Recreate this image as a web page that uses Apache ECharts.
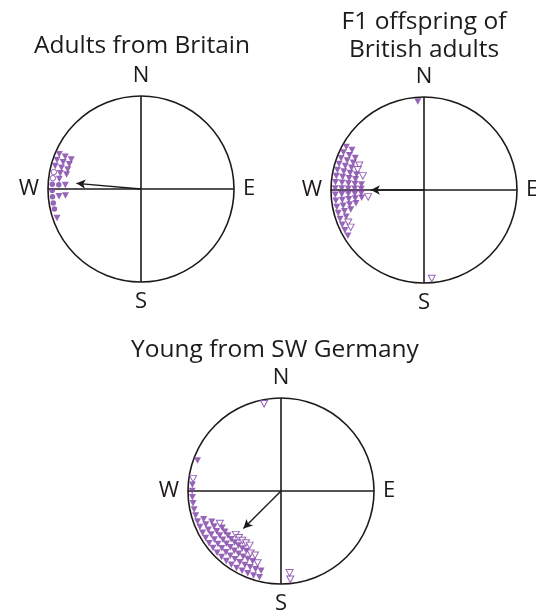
<!DOCTYPE html>
<html style="height: 100%">
<head>
    <meta charset="utf-8">
</head>
<body style="height: 100%; margin: 0; background: #fff">
<div id="container" style="width: 536px; height: 613px"></div>
<script type="text/javascript" src="https://cdn.jsdelivr.net/npm/echarts@6/dist/echarts.min.js"></script>
<script type="text/javascript">
var dom = document.getElementById('container');
var myChart = echarts.init(dom);

var INK = '#1e1a1b';
var PURPLE = '#7d3fa5';

var panelTitles = ['Adults from Britain', 'F1 offspring of\nBritish adults', 'Young from SW Germany'];
var compassLabels = { 0: 'N', 90: 'E', 180: 'S', 270: 'W' };

// Adults from Britain: bearing bins (deg) and number of birds per symbol type
var adultsBins       = [293, 289, 285, 281, 277, 273, 269, 265, 261, 257, 251];
var adultsDot        = [0,   0,   0,   0,   0,   2,   1,   1,   1,   1,   0];
var adultsOpenDot    = [0,   0,   0,   1,   1,   0,   0,   0,   0,   0,   0];
var adultsFilled     = [3,   3,   3,   2,   1,   1,   0,   2,   0,   0,   1];
var adultsOpen       = [0,   0,   0,   0,   0,   0,   0,   0,   0,   0,   0];

// F1 offspring of British adults
var f1Bins   = [356, 299, 295, 291, 287, 283, 279, 275, 271, 267, 263, 259, 255, 251, 247, 243, 239, 175];
var f1Filled = [1,   2,   3,   3,   3,   4,   4,   5,   5,   5,   5,   4,   3,   2,   1,   1,   1,   0];
var f1Open   = [0,   0,   0,   1,   1,   1,   0,   0,   0,   0,   1,   0,   0,   0,   1,   1,   0,   1];

// Young from SW Germany
var youngBins   = [349, 290, 278, 274, 270, 266, 262, 258, 254, 250, 246, 242, 238, 234, 230, 226, 222, 218, 214, 210, 206, 202, 198, 194, 174];
var youngFilled = [0,   1,   0,   1,   1,   1,   1,   1,   1,   2,   3,   3,   4,   4,   4,   4,   4,   4,   4,   4,   3,   3,   2,   2,   0];
var youngOpen   = [1,   0,   1,   0,   0,   0,   0,   0,   0,   0,   0,   1,   0,   0,   0,   1,   1,   1,   1,   1,   1,   1,   1,   0,   2];

// mean vectors: [length, bearing]
var meanVectors = [[0.745, 275], [0.62, 270], [0.62, 225]];

var panels = [
    { center: [141, 189], title: [142, 46] },
    { center: [424, 190], title: [424, 36] },
    { center: [281, 491], title: [275, 350] }
];
var RADIUS = 93;
var CROSS = 1.09;
var RING = 0.955, STEP = 0.07;

function stack(bins, groups) {
    var out = groups.map(function () { return []; });
    bins.forEach(function (b, i) {
        var k = 0;
        groups.forEach(function (counts, g) {
            for (var n = 0; n < counts[i]; n++) {
                out[g].push([RING - STEP * k, b]);
                k++;
            }
        });
    });
    return out;
}

function marks(pi, data, symbol, filled) {
    return {
        type: 'scatter',
        coordinateSystem: 'polar',
        polarIndex: pi,
        data: data,
        symbol: symbol,
        symbolSize: symbol === 'triangle' ? [7, 6.5] : 5.5,
        symbolRotate: symbol === 'triangle' ? 180 : 0,
        itemStyle: filled
            ? { color: PURPLE }
            : { color: '#fff', borderColor: PURPLE, borderWidth: 1 },
        silent: true,
        z: 3
    };
}

function cross(pi) {
    return [[[CROSS, 0], [CROSS, 180]], [[CROSS, 90], [CROSS, 270]]].map(function (d) {
        return {
            type: 'line', coordinateSystem: 'polar', polarIndex: pi,
            data: d, symbol: 'none', clip: false, silent: true, z: 1,
            lineStyle: { color: INK, width: 1.6 }
        };
    });
}

function arrow(pi, v) {
    var head = 9;
    return {
        type: 'line', coordinateSystem: 'polar', polarIndex: pi,
        clip: false, silent: true, z: 4,
        data: [
            { value: [0, v[1]], symbol: 'none' },
            { value: [v[0] - head / 2 / RADIUS, v[1]], symbol: 'arrow', symbolSize: [7, head], symbolRotate: -v[1] }
        ],
        lineStyle: { color: INK, width: 1.4 },
        itemStyle: { color: INK }
    };
}

var adults = stack(adultsBins, [adultsDot, adultsOpenDot, adultsFilled, adultsOpen]);
var f1 = stack(f1Bins, [f1Filled, f1Open]);
var young = stack(youngBins, [youngFilled, youngOpen]);

var series = [];
[0, 1, 2].forEach(function (i) {
    series = series.concat(cross(i));
});
series.push(marks(0, adults[0], 'circle', true));
series.push(marks(0, adults[1], 'circle', false));
series.push(marks(0, adults[2], 'triangle', true));
series.push(marks(0, adults[3], 'triangle', false));
series.push(marks(1, f1[0], 'triangle', true));
series.push(marks(1, f1[1], 'triangle', false));
series.push(marks(2, young[0], 'triangle', true));
series.push(marks(2, young[1], 'triangle', false));
meanVectors.forEach(function (v, i) {
    series.push(arrow(i, v));
});

var option = {
    backgroundColor: '#fff',
    animation: false,
    polar: panels.map(function (p) {
        return { center: p.center, radius: RADIUS };
    }),
    angleAxis: panels.map(function (p, i) {
        return {
            polarIndex: i,
            type: 'value',
            min: 0,
            max: 360,
            interval: 90,
            startAngle: 90,
            clockwise: true,
            axisLine: { lineStyle: { color: INK, width: 1.6 } },
            axisTick: { show: false },
            splitLine: { show: false },
            axisLabel: {
                margin: 9,
                fontSize: 22,
                color: INK,
                fontFamily: 'Open Sans',
                formatter: function (v) { return compassLabels[v] || ''; }
            }
        };
    }),
    radiusAxis: panels.map(function (p, i) {
        return {
            polarIndex: i, min: 0, max: 1,
            axisLine: { show: false }, axisTick: { show: false },
            axisLabel: { show: false }, splitLine: { show: false }
        };
    }),
    graphic: panels.map(function (p, i) {
        return {
            type: 'text',
            x: p.title[0],
            y: p.title[1],
            style: {
                text: panelTitles[i],
                align: 'center',
                verticalAlign: 'middle',
                fontSize: 24.5,
                lineHeight: 28,
                fontFamily: 'Open Sans',
                fill: INK
            }
        };
    }),
    series: series
};

myChart.setOption(option);
</script>
</body>
</html>
